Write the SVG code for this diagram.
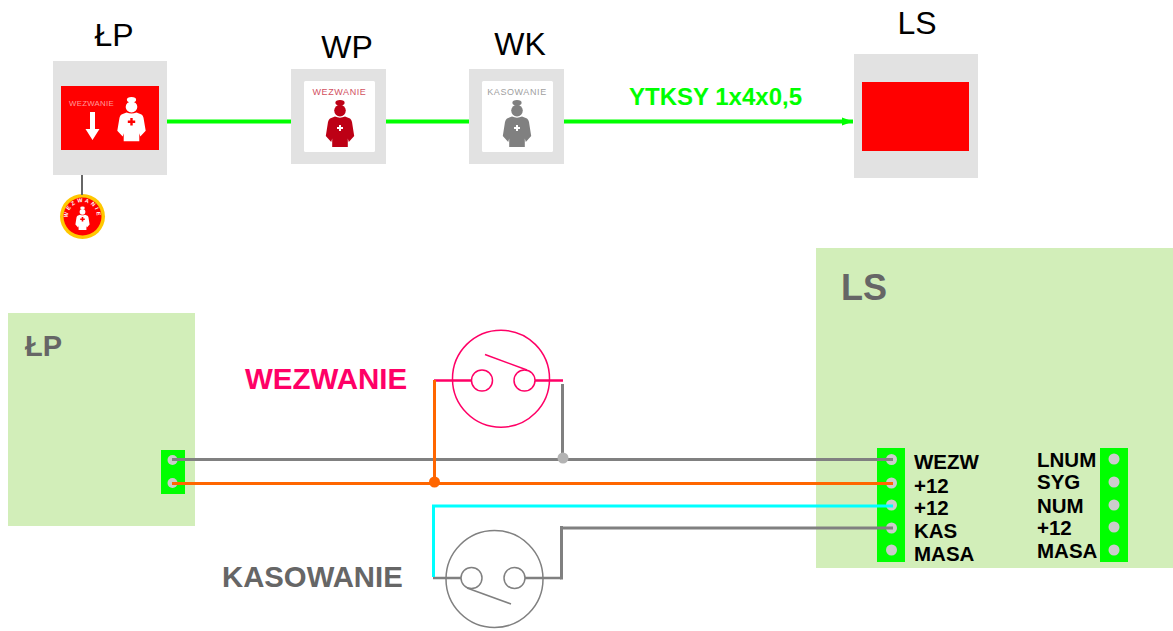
<svg xmlns="http://www.w3.org/2000/svg" width="1173" height="631" viewBox="0 0 1173 631">
<style>
text{font-family:"Liberation Sans",Arial,sans-serif}
.title{font-size:32px;fill:#000;text-anchor:middle}
.panel{fill:#d2eeb9}
.box{fill:#e2e2e2}
.term{fill:#00ff00}
.pin{fill:#cccccc}
.lbl{font-size:20.5px;font-weight:bold;fill:#000}
.big{font-weight:bold;fill:#666}
.w{fill:none;stroke-width:3}
.sw{fill:none;stroke-width:1.5}
.lead{fill:none;stroke-width:2.5}
.sig{stroke-width:4;stroke:#00ff00;fill:none}
.tiny{font-size:9px;letter-spacing:.6px;text-anchor:middle}
</style>
<defs>
<marker id="ah" markerUnits="userSpaceOnUse" markerWidth="12" markerHeight="10" refX="11" refY="4.500" orient="auto"><path d="M0,0.500L11,4.500L0,8.500Z" fill="#00ff00"/></marker>
<g id="nurse">
<ellipse cx="0" cy="2.800" rx="4.600" ry="2.800"/>
<circle cx="0" cy="10.600" r="5.800"/>
<path d="M-5,16.500Q0,18.800 5,16.500L10,18.500Q11.500,19.500 12,22L14.200,36L8.800,42L7.800,38.500V47H-7.800V38.500L-8.800,42L-14.200,36L-12,22Q-11.500,19.500 -10,18.500Z"/>
</g>
<path id="cross" d="M-1,-3H1V-1H3V1H1V3H-1V1H-3V-1H-1Z" fill="#fff"/>
<path id="arc" d="M-12.500,7.400A14.500,14.500 0 1 1 12.500,7.400" fill="none"/>
</defs>

<g id="node-lp-top">
<rect class="box" x="53" y="61" width="114" height="114"/>
<rect x="61" y="86" width="98" height="64" fill="#ff0000"/>
<text x="69" y="106" font-size="7.800" letter-spacing=".3" fill="#ff9c9c">WEZWANIE</text>
<path d="M90,112H95V129H99.500L92.500,140L85.500,129H90Z" fill="#fff"/>
<use href="#nurse" transform="translate(131.500,97) scale(1,0.94)" fill="#fff"/>
<path d="M130.300,118H132.700V120.500H135.200V122.900H132.700V125.400H130.300V122.900H127.800V120.500H130.300Z" fill="#ff0000"/>
<text x="114" y="46" class="title">ŁP</text>
</g>

<g id="node-badge">
<circle cx="82.500" cy="216.500" r="22.500" fill="#ffc800"/>
<circle cx="82.500" cy="216.500" r="19" fill="#ff0000"/>
<g transform="translate(82.500,216.500)">
<text font-size="5.500" font-weight="bold" fill="#fff" letter-spacing="2.200" text-anchor="middle"><textPath href="#arc" startOffset="50%">WEZWANIE</textPath></text>
</g>
<use href="#nurse" transform="translate(82.500,206.500) scale(0.5)" fill="#fff"/>
<path d="M81.700,217H83.300V218.500H84.800V220.100H83.300V221.600H81.700V220.100H80.200V218.500H81.700Z" fill="#ff0000"/>
</g>

<g id="node-wp">
<rect class="box" x="291" y="69" width="95" height="95"/>
<rect x="304" y="81" width="71" height="71" rx="1.500" fill="#fff"/>
<text x="339.500" y="95" class="tiny" fill="#d2515f">WEZWANIE</text>
<use href="#nurse" transform="translate(340,100)" fill="#bd0015"/>
<use href="#cross" transform="translate(340,128)"/>
<text x="347" y="58" class="title">WP</text>
</g>

<g id="node-wk">
<rect class="box" x="469" y="69" width="95" height="95"/>
<rect x="482" y="81" width="71" height="71" rx="1.500" fill="#fff"/>
<text x="517" y="95" class="tiny" fill="#a0a0a0">KASOWANIE</text>
<use href="#nurse" transform="translate(517,100)" fill="#808080"/>
<use href="#cross" transform="translate(517,128)"/>
<text x="520" y="55" class="title">WK</text>
</g>

<g id="node-ls-top">
<rect class="box" x="854" y="54" width="124" height="124"/>
<rect x="862" y="82" width="107" height="69" fill="#ff0000"/>
<text x="917" y="34" class="title">LS</text>
</g>

<text x="629" y="105" font-size="24" font-weight="bold" fill="#00ff00">YTKSY 1x4x0,5</text>

<g id="node-lp-panel">
<rect class="panel" x="8" y="313" width="187" height="213"/>
<text x="25" y="356" class="big" font-size="29">ŁP</text>
<rect class="term" x="161" y="450" width="24" height="44"/>
<circle class="pin" cx="172.500" cy="460" r="5"/>
<circle class="pin" cx="172.500" cy="483" r="5"/>
</g>

<g id="node-ls-panel">
<rect class="panel" x="816" y="248" width="357" height="320"/>
<text x="841" y="300" class="big" font-size="36">LS</text>
<rect class="term" x="877" y="448" width="28" height="114"/>
<circle class="pin" cx="891.500" cy="459.500" r="5.500"/>
<circle class="pin" cx="891.500" cy="483" r="5.500"/>
<circle class="pin" cx="891.500" cy="505" r="5.500"/>
<circle class="pin" cx="891.500" cy="528" r="5.500"/>
<circle class="pin" cx="891.500" cy="550" r="5.500"/>
<text class="lbl" x="914" y="469">WEZW</text>
<text class="lbl" x="914" y="493">+12</text>
<text class="lbl" x="914" y="515">+12</text>
<text class="lbl" x="914" y="538">KAS</text>
<text class="lbl" x="914" y="561">MASA</text>
<rect class="term" x="1100" y="448" width="28" height="114"/>
<circle class="pin" cx="1114" cy="459" r="5.500"/>
<circle class="pin" cx="1114" cy="482" r="5.500"/>
<circle class="pin" cx="1114" cy="505" r="5.500"/>
<circle class="pin" cx="1114" cy="527" r="5.500"/>
<circle class="pin" cx="1114" cy="550" r="5.500"/>
<text class="lbl" x="1037" y="467">LNUM</text>
<text class="lbl" x="1037" y="489">SYG</text>
<text class="lbl" x="1037" y="513">NUM</text>
<text class="lbl" x="1037" y="535">+12</text>
<text class="lbl" x="1037" y="558">MASA</text>
</g>

<g id="node-sw-wezwanie" stroke="#ff0066">
<circle class="sw" cx="501" cy="378.700" r="48.500"/>
<circle class="sw" cx="482" cy="380.500" r="10.500"/>
<circle class="sw" cx="524.500" cy="380.500" r="10.500"/>
<path class="sw" d="M485,354.500L527,370"/>
<path class="lead" d="M434,380.500H471.500M535,380.500H563"/>
<text x="245" y="389" font-size="29.500" font-weight="bold" fill="#ff0066" stroke="none">WEZWANIE</text>
</g>

<g id="node-sw-kasowanie" stroke="#808080">
<circle class="sw" cx="494.500" cy="579" r="48.500"/>
<circle class="sw" cx="471.500" cy="578" r="10.500"/>
<circle class="sw" cx="514.500" cy="578" r="10.500"/>
<path class="sw" d="M467,588L511,604"/>
<path class="lead" d="M433,578H461M525,578H561"/>
<text x="222" y="587" font-size="29.300" font-weight="bold" fill="#666" stroke="none">KASOWANIE</text>
</g>

<g id="connectors">
<path class="sig" d="M167,121.500H291M386,121.500H469"/>
<path class="sig" d="M564,121.500H853" marker-end="url(#ah)"/>
<path d="M82,175V195" stroke="#666" stroke-width="2" fill="none"/>
<path class="w" stroke="#808080" d="M172,459.500H893"/>
<path class="w" stroke="#ff6600" d="M172,483.500H893"/>
<path class="w" stroke="#808080" d="M562.500,384V458"/>
<path class="w" stroke="#ff6600" d="M434.500,380V483"/>
<circle cx="563" cy="458" r="5.500" fill="#b3b3b3"/>
<circle cx="434.500" cy="482" r="5.500" fill="#ff6600"/>
<path class="w" stroke="#00ffff" d="M433.500,577V506H893"/>
<path class="w" stroke="#808080" d="M561.500,526V579.500M560,528H893"/>
</g>
</svg>
